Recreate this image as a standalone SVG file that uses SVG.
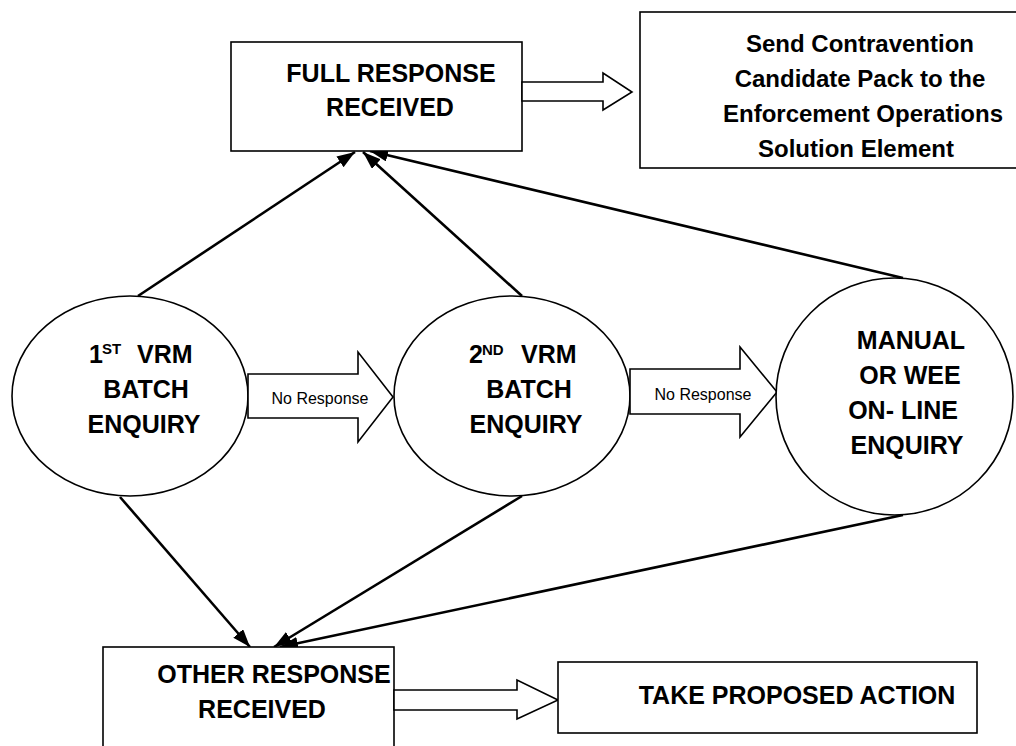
<svg xmlns="http://www.w3.org/2000/svg" width="1016" height="746" viewBox="0 0 1016 746">
<defs>
<marker id="ah" markerUnits="userSpaceOnUse" markerWidth="19" markerHeight="14" refX="18" refY="6.5" orient="auto">
<path d="M0,0 L18,6.5 L0,13 z" fill="#000"/>
</marker>
</defs>
<style>
.box{fill:#fff;stroke:#000;stroke-width:1.6}
.ell{fill:#fff;stroke:#000;stroke-width:1.6}
.blk{fill:#fff;stroke:#000;stroke-width:1.6;stroke-linejoin:miter}
.t{font-family:"Liberation Sans",Arial,sans-serif;font-weight:bold;font-size:25px;fill:#000;text-anchor:middle}
.ts{font-family:"Liberation Sans",Arial,sans-serif;font-weight:bold;font-size:24px;fill:#000;text-anchor:middle}
.sup{font-size:15px}
.nr{font-family:"Liberation Sans",Arial,sans-serif;font-size:16px;fill:#000;text-anchor:middle}
.c{stroke:#000;stroke-width:2.6;fill:none;marker-end:url(#ah)}
</style>
<rect width="1016" height="746" fill="#fff"/>
<g id="connectors">
<line class="c" x1="138" y1="296" x2="355" y2="152"/>
<line class="c" x1="522" y1="296" x2="363" y2="152"/>
<line class="c" x1="903" y1="278" x2="370" y2="151"/>
<line class="c" x1="120" y1="497" x2="250" y2="647"/>
<line class="c" x1="522" y1="496" x2="274" y2="647"/>
<line class="c" x1="903" y1="515" x2="280" y2="647"/>
</g>
<g id="full-response">
<rect class="box" x="231" y="42" width="291" height="109"/>
<text class="t" x="391" y="82">FULL RESPONSE</text>
<text class="t" x="390" y="116">RECEIVED</text>
</g>
<g id="send-pack">
<rect class="box" x="640" y="12" width="390" height="156"/>
<text class="ts" x="860" y="52">Send Contravention</text>
<text class="ts" x="860" y="87">Candidate Pack to the</text>
<text class="ts" x="863" y="122">Enforcement Operations</text>
<text class="ts" x="856" y="157">Solution Element</text>
</g>
<g id="arrow-full-send">
<polygon class="blk" points="522,82 603,82 603,73 632,92 603,110 603,101 522,101"/>
</g>
<g id="first-vrm">
<ellipse class="ell" cx="130" cy="396" rx="118" ry="100"/>
<text class="t" x="89" y="363" style="text-anchor:start">1</text>
<text class="t sup" x="102" y="354" style="text-anchor:start">ST</text>
<text class="t" x="137" y="363" style="text-anchor:start">VRM</text>
<text class="t" x="146" y="398">BATCH</text>
<text class="t" x="144" y="433">ENQUIRY</text>
</g>
<g id="no-response-1">
<polygon class="blk" points="248,374 358,374 358,352 393,397 358,442 358,418 248,418"/>
<text class="nr" x="320" y="404">No Response</text>
</g>
<g id="second-vrm">
<ellipse class="ell" cx="512" cy="396" rx="118" ry="100"/>
<text class="t" x="469" y="363" style="text-anchor:start">2</text>
<text class="t sup" x="482" y="355" style="text-anchor:start">ND</text>
<text class="t" x="521" y="363" style="text-anchor:start">VRM</text>
<text class="t" x="529" y="398">BATCH</text>
<text class="t" x="526" y="433">ENQUIRY</text>
</g>
<g id="no-response-2">
<polygon class="blk" points="630,369 740,369 740,347 777,392 740,437 740,414 630,414"/>
<text class="nr" x="703" y="400">No Response</text>
</g>
<g id="manual-enquiry">
<ellipse class="ell" cx="894.5" cy="396.5" rx="118.5" ry="118.5"/>
<text class="t" x="911" y="349">MANUAL</text>
<text class="t" x="910" y="384">OR WEE</text>
<text class="t" x="903" y="419">ON- LINE</text>
<text class="t" x="907" y="454">ENQUIRY</text>
</g>
<g id="other-response">
<rect class="box" x="103" y="647" width="291" height="120"/>
<text class="t" x="274" y="683">OTHER RESPONSE</text>
<text class="t" x="262" y="718">RECEIVED</text>
</g>
<g id="arrow-other-take">
<polygon class="blk" points="394,690 517,690 517,680 558,700 517,719 517,710 394,710"/>
</g>
<g id="take-action">
<rect class="box" x="558" y="662" width="419" height="71"/>
<text class="t" x="797" y="704">TAKE PROPOSED ACTION</text>
</g>
</svg>
